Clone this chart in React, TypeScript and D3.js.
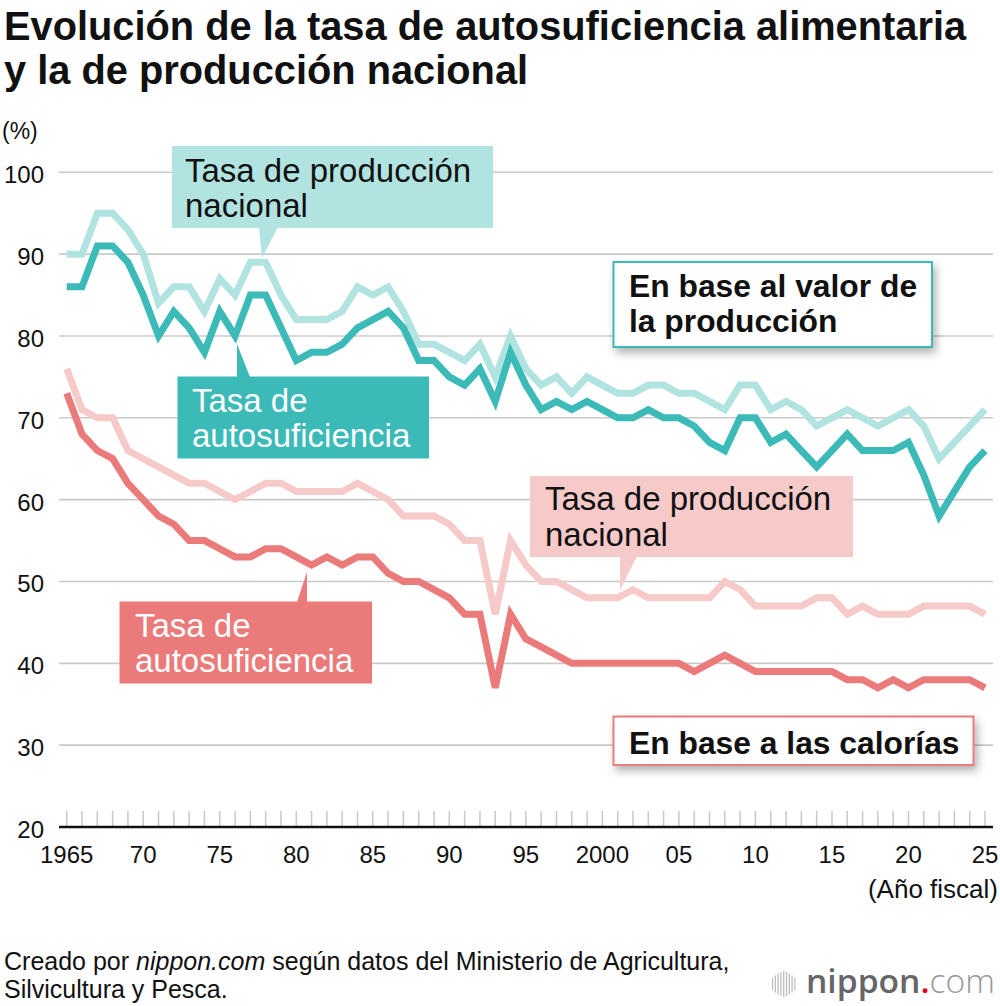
import React from "react";
import * as d3 from "d3";

const years = [
  1965, 1966, 1967, 1968, 1969, 1970, 1971, 1972, 1973, 1974,
  1975, 1976, 1977, 1978, 1979, 1980, 1981, 1982, 1983, 1984,
  1985, 1986, 1987, 1988, 1989, 1990, 1991, 1992, 1993, 1994,
  1995, 1996, 1997, 1998, 1999, 2000, 2001, 2002, 2003, 2004,
  2005, 2006, 2007, 2008, 2009, 2010, 2011, 2012, 2013, 2014,
  2015, 2016, 2017, 2018, 2019, 2020, 2021, 2022, 2023, 2024,
  2025,
];

// Production value basis – national production rate (light teal)
const valueProduction = [
  90, 90, 95, 95, 93, 90, 84, 86, 86, 83,
  87, 85, 89, 89, 85, 82, 82, 82, 83, 86,
  85, 86, 83, 79, 79, 78, 77, 79, 75, 80,
  76, 74, 75, 73, 75, 74, 73, 73, 74, 74,
  73, 73, 72, 71, 74, 74, 71, 72, 71, 69,
  70, 71, 70, 69, 70, 71, 69, 65, 67, 69,
  71,
];

// Production value basis – self-sufficiency rate (teal)
const valueSelf = [
  86, 86, 91, 91, 89, 85, 80, 83, 81, 78,
  83, 80, 85, 85, 81, 77, 78, 78, 79, 81,
  82, 83, 81, 77, 77, 75, 74, 76, 72, 78,
  74, 71, 72, 71, 72, 71, 70, 70, 71, 70,
  70, 69, 67, 66, 70, 70, 67, 68, 66, 64,
  66, 68, 66, 66, 66, 67, 63, 58, 61, 64,
  66,
];

// Calorie basis – national production rate (pink)
const calorieProduction = [
  76, 71, 70, 70, 66, 65, 64, 63, 62, 62,
  61, 60, 61, 62, 62, 61, 61, 61, 61, 62,
  61, 60, 58, 58, 58, 57, 55, 55, 46, 55,
  52, 50, 50, 49, 48, 48, 48, 49, 48, 48,
  48, 48, 48, 50, 49, 47, 47, 47, 47, 48,
  48, 46, 47, 46, 46, 46, 47, 47, 47, 47,
  46,
];

// Calorie basis – self-sufficiency rate (red)
const calorieSelf = [
  73, 68, 66, 65, 62, 60, 58, 57, 55, 55,
  54, 53, 53, 54, 54, 53, 52, 53, 52, 53,
  53, 51, 50, 50, 49, 48, 46, 46, 37, 46,
  43, 42, 41, 40, 40, 40, 40, 40, 40, 40,
  40, 39, 40, 41, 40, 39, 39, 39, 39, 39,
  39, 38, 38, 37, 38, 37, 38, 38, 38, 38,
  37,
];

const yTicks = [20, 30, 40, 50, 60, 70, 80, 90, 100];
const xTickYears = [1965, 1970, 1975, 1980, 1985, 1990, 1995, 2000, 2005, 2010, 2015, 2020, 2025];
const xTickLabels = ["1965", "70", "75", "80", "85", "90", "95", "2000", "05", "10", "15", "20", "25"];

const titleLines = [
  "Evolución de la tasa de autosuficiencia alimentaria",
  "y la de producción nacional",
];

const C_TEAL = "#3bbab7";
const C_TEAL_L = "#b1e3e0";
const C_RED = "#ea7b7a";
const C_PINK = "#f7caca";
const FONT = "'Liberation Sans', Arial, Helvetica, sans-serif";

export default function App() {
  const W = 1000;
  const H = 1006;
  const x = d3.scaleLinear().domain([1965, 2025]).range([66.7, 985]);
  const y = d3.scaleLinear().domain([20, 100]).range([827, 172.3]);

  const line = d3
    .line<number>()
    .x((_, i) => x(years[i]))
    .y((d) => y(d));

  const series = [
    { data: valueProduction, color: C_TEAL_L },
    { data: calorieProduction, color: C_PINK },
    { data: valueSelf, color: C_TEAL },
    { data: calorieSelf, color: C_RED },
  ];

  const gridX0 = 59;
  const gridX1 = 993;
  const calloutFs = 33;

  return (
    <svg
      width={W}
      height={H}
      viewBox={`0 0 ${W} ${H}`}
      style={{ position: "absolute", left: 0, top: 0, background: "#fff" }}
      fontFamily={FONT}
    >
      <defs>
        <filter id="shadow" x="-10%" y="-30%" width="130%" height="180%">
          <feDropShadow dx="3" dy="5" stdDeviation="4" floodColor="#000" floodOpacity="0.3" />
        </filter>
      </defs>
      <rect width={W} height={H} fill="#fff" />

      {/* Title */}
      {titleLines.map((t, i) => (
        <text key={t} x={4} y={40 + i * 44} fontSize={39.8} fontWeight="bold" fill="#111">
          {t}
        </text>
      ))}

      {/* unit */}
      <text x={2} y={138.5} fontSize={23} fill="#111">(%)</text>

      {/* grid */}
      {yTicks
        .filter((v) => v > 20)
        .map((v) => (
          <line key={v} x1={gridX0} x2={gridX1} y1={y(v)} y2={y(v)} stroke="#cacaca" strokeWidth={1.6} />
        ))}
      {yTicks.map((v) => (
        <text key={"yl" + v} x={44} y={y(v) + 11} fontSize={24} textAnchor="end" fill="#111">
          {v}
        </text>
      ))}

      {/* minor year ticks */}
      {years.map((yr) => (
        <line key={"t" + yr} x1={x(yr)} x2={x(yr)} y1={811} y2={826} stroke="#c8c8c8" strokeWidth={1.5} />
      ))}
      <line x1={gridX0} x2={gridX1} y1={y(20)} y2={y(20)} stroke="#111" strokeWidth={2.5} />
      {xTickYears.map((yr, i) => (
        <text key={"xl" + yr} x={x(yr)} y={862.7} fontSize={24} textAnchor="middle" fill="#111">
          {xTickLabels[i]}
        </text>
      ))}
      <text x={998} y={897.5} fontSize={26} textAnchor="end" fill="#111">(Año fiscal)</text>

      {/* lines */}
      {series.map((s, i) => (
        <path
          key={i}
          d={line(s.data) || ""}
          fill="none"
          stroke={s.color}
          strokeWidth={7}
          strokeLinejoin="miter"
          strokeMiterlimit={4}
        />
      ))}

      {/* light teal callout */}
      <rect x={172} y={146} width={321} height={82} fill={C_TEAL_L} />
      <polygon points="259,227 278,227 262,258" fill={C_TEAL_L} />
      <text x={185} y={181.5} fontSize={calloutFs} fill="#111">Tasa de producción</text>
      <text x={185} y={216.5} fontSize={calloutFs} fill="#111">nacional</text>

      {/* teal callout */}
      <rect x={177.5} y={376.5} width={251.5} height={82} fill={C_TEAL} />
      <polygon points="237,344 237,377 250,377" fill={C_TEAL} />
      <text x={192} y={412} fontSize={calloutFs} fill="#fff">Tasa de</text>
      <text x={192} y={446.5} fontSize={calloutFs} fill="#fff">autosuficiencia</text>

      {/* pink callout */}
      <rect x={530} y={476} width={323} height={81} fill={C_PINK} />
      <polygon points="620,590 620,556 637,556" fill={C_PINK} />
      <text x={545} y={510} fontSize={calloutFs} fill="#111">Tasa de producción</text>
      <text x={545} y={546} fontSize={calloutFs} fill="#111">nacional</text>

      {/* red callout */}
      <rect x={119.5} y={601.5} width={252.5} height={82} fill={C_RED} />
      <polygon points="307,572 297,602 307,602" fill={C_RED} />
      <text x={135} y={637} fontSize={calloutFs} fill="#fff">Tasa de</text>
      <text x={135} y={672} fontSize={calloutFs} fill="#fff">autosuficiencia</text>

      {/* value basis box */}
      <rect x={613.5} y={262} width={318.5} height={85} fill="#fff" stroke={C_TEAL} strokeWidth={2} filter="url(#shadow)" />
      <text x={629} y={297} fontSize={31.8} fontWeight="bold" fill="#111">En base al valor de</text>
      <text x={629} y={332} fontSize={31.8} fontWeight="bold" fill="#111">la producción</text>

      {/* calorie basis box */}
      <rect x={613.5} y={716.5} width={360} height={48.5} fill="#fff" stroke={C_RED} strokeWidth={2} filter="url(#shadow)" />
      <text x={629} y={754.3} fontSize={31.8} fontWeight="bold" fill="#111">En base a las calorías</text>

      {/* footer */}
      <text x={4} y={970} fontSize={25} fill="#111">
        Creado por <tspan fontStyle="italic">nippon.com</tspan> según datos del Ministerio de Agricultura,
      </text>
      <text x={4} y={998} fontSize={25} fill="#111">Silvicultura y Pesca.</text>

      {/* logo */}
      {[0, 1, 2, 3, 4, 5, 6, 7, 8].map((i) => {
        const hs = [12, 17, 21, 24, 26, 24, 21, 17, 12];
        const cx = 772.5 + i * 2.8;
        return (
          <line key={"b" + i} x1={cx} x2={cx} y1={984 - hs[i] / 2} y2={984 + hs[i] / 2} stroke="#bdbdbd" strokeWidth={1.3} />
        );
      })}
      <text
        x={806}
        y={993}
        fontSize={33}
        fontFamily="'Open Sans', sans-serif"
        fill="#666"
        textLength={189}
        lengthAdjust="spacingAndGlyphs"
      >
        <tspan fontWeight={600}>nippon</tspan>
        <tspan fill="#e60012" fontWeight={600}>.</tspan>
        <tspan fontWeight={300} fill="#999">com</tspan>
      </text>
    </svg>
  );
}
